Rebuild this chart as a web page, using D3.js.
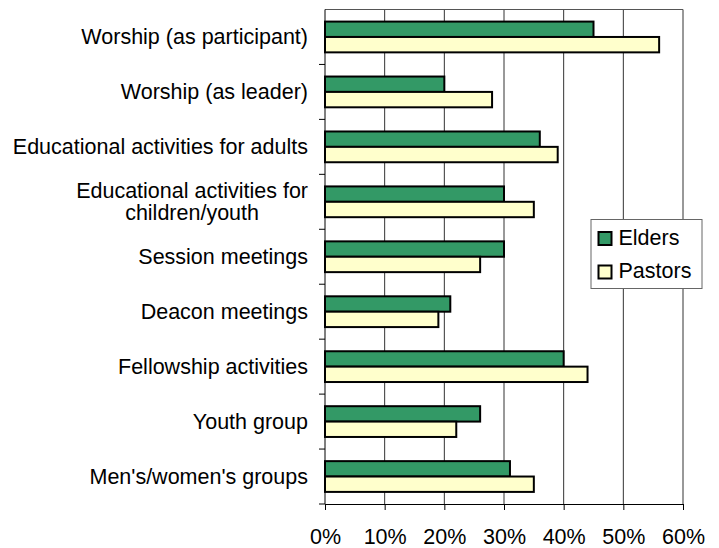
<!DOCTYPE html>
<html>
<head>
<meta charset="utf-8">
<script src="https://cdn.jsdelivr.net/npm/d3@7"></script>
<style>
  body { margin: 0; background: #fff; }
  text { font-family: "Liberation Sans", Arial, sans-serif; fill: #000; }
</style>
</head>
<body>
<svg id="chart" width="719" height="548"></svg>
<script>
const categories = [
  ['Worship (as participant)'],
  ['Worship (as leader)'],
  ['Educational activities for adults'],
  ['Educational activities for', 'children/youth'],
  ['Session meetings'],
  ['Deacon meetings'],
  ['Fellowship activities'],
  ['Youth group'],
  ["Men's/women's groups"]
]
const elders = [45, 20, 36, 30, 30, 21, 40, 26, 31]
const pastors = [56, 28, 39, 35, 26, 19, 44, 22, 35]
const xTicks = [0, 10, 20, 30, 40, 50, 60]
const seriesNames = ['Elders', 'Pastors']
const colors = ['#339966', '#ffffcc']

const margin = { top: 9.5, left: 325, right: 36, bottom: 44 }
const svg = d3.select('#chart')
const width = 719 - margin.left - margin.right
const height = 548 - margin.top - margin.bottom
const g = svg.append('g').attr('transform', `translate(${margin.left},${margin.top})`)

const x = d3.scaleLinear().domain([0, 60]).range([0, width])
const y = d3.scaleBand().domain(d3.range(categories.length)).range([0, height]).paddingInner(0.44).paddingOuter(0.22)
const inner = d3.scaleBand().domain([0, 1]).range([0, y.bandwidth()])

// gridlines
g.selectAll('.grid').data(xTicks.slice(1)).enter().append('line')
  .attr('x1', d => x(d)).attr('x2', d => x(d))
  .attr('y1', 0).attr('y2', height)
  .attr('stroke', '#333').attr('stroke-width', 1)
g.append('line').attr('x1', 0).attr('x2', width).attr('y1', 0).attr('y2', 0)
  .attr('stroke', '#555').attr('stroke-width', 1)

// bars
const rows = categories.map((c, i) => [elders[i], pastors[i]])
const grp = g.selectAll('.row').data(rows).enter().append('g')
  .attr('transform', (d, i) => `translate(0,${y(i)})`)
grp.selectAll('rect').data(d => d).enter().append('rect')
  .attr('x', 0)
  .attr('y', (d, j) => inner(j))
  .attr('width', d => x(d))
  .attr('height', inner.bandwidth())
  .attr('fill', (d, j) => colors[j])
  .attr('stroke', '#000').attr('stroke-width', 2)

// x axis
const xAxis = g.append('g').attr('transform', `translate(0,${height})`)
  .call(d3.axisBottom(x).tickValues(xTicks).tickFormat(d => d + '%').tickSizeOuter(0).tickSize(6).tickPadding(19))
xAxis.selectAll('text').style('font-size', '21.5px')
xAxis.select('.domain').attr('stroke', '#000')

// y axis: ticks between categories
const yBounds = d3.range(categories.length + 1).map(i => i * height / categories.length)
g.append('line').attr('x1', 0).attr('x2', 0).attr('y1', 0).attr('y2', height).attr('stroke', '#000')
g.selectAll('.ytick').data(yBounds.slice(1)).enter().append('line')
  .attr('x1', -6).attr('x2', 0).attr('y1', d => d).attr('y2', d => d).attr('stroke', '#000')

// category labels (multi-line ones are centred as a block, right-aligned to the axis)
g.selectAll('.lbl').data(categories).enter().append('text')
  .style('font-size', '21.5px')
  .each(function (lines, i) {
    const t = d3.select(this)
    const cy = y(i) + y.bandwidth() / 2
    if (lines.length === 1) {
      t.attr('text-anchor', 'end').attr('x', -17).attr('y', cy + 7.5).text(lines[0])
      return
    }
    const spans = lines.map((s, k) => t.append('tspan').attr('y', cy + 7.5 + (k - (lines.length - 1) / 2) * 22).text(s))
    const w = d3.max(spans, s => s.node().getComputedTextLength())
    t.attr('text-anchor', 'middle')
    spans.forEach(s => s.attr('x', -17 - w / 2))
  })

// legend
const legend = svg.append('g').attr('transform', 'translate(591,219.5)')
legend.append('rect').attr('width', 111).attr('height', 69)
  .attr('fill', '#fff').attr('stroke', '#666').attr('stroke-width', 1)
seriesNames.forEach((name, j) => {
  const item = legend.append('g').attr('transform', `translate(7.5,${12.5 + j * 33.5})`)
  item.append('rect').attr('width', 13).attr('height', 13)
    .attr('fill', colors[j]).attr('stroke', '#000').attr('stroke-width', 2)
  item.append('text').attr('x', 20).attr('y', 12.5).style('font-size', '21.5px').text(name)
})
</script>
</body>
</html>
